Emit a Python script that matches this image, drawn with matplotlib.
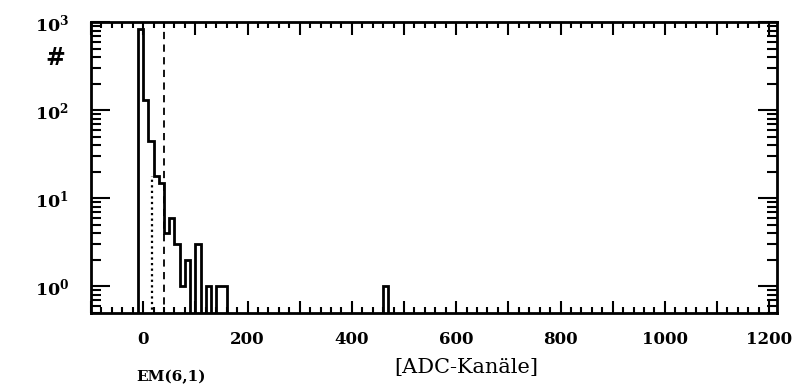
import matplotlib.pyplot as plt
import numpy as np
from matplotlib.ticker import MultipleLocator, LogLocator, FuncFormatter, NullFormatter

plt.rcParams['font.family'] = 'DejaVu Serif'
plt.rcParams['font.weight'] = 'bold'
plt.rcParams['mathtext.fontset'] = 'dejavuserif'

# histogramm (linke bin-kante, eintraege), breite 10 kanaele
bin_left = [-10, 0, 10, 20, 30, 40, 50, 60, 70, 80, 100, 120, 140, 150, 460]
counts = [830, 130, 45, 18, 15, 4, 6, 3, 1, 2, 3, 1, 1, 1, 1]

# schnitte
dotted_x, dotted_top = 17, 18
dashed_x, dashed_top = 39, 790

edges = np.arange(-10, 490, 10)
vals = np.full(len(edges) - 1, 1e-2)
for b, c in zip(bin_left, counts):
    vals[(b + 10) // 10] = c

fig = plt.figure(figsize=(7.97, 3.92), dpi=100)
ax = fig.add_axes([91/797, 79/392, 686/797, 291/392])

ax.stairs(vals, edges, baseline=1e-2, color='black', lw=2)
ax.vlines(dotted_x, 1e-2, dotted_top, colors='black', linestyles=(0, (1, 1.5)), lw=1.6)
ax.vlines(dashed_x, 1e-2, dashed_top, colors='black', linestyles=(0, (4, 3)), lw=1.3)

ax.set_yscale('log')
ax.set_xlim(-100, 1215)
ax.set_ylim(0.5, 1000)

ax.xaxis.set_major_locator(MultipleLocator(100))
ax.xaxis.set_major_formatter(FuncFormatter(lambda v, p: f'{int(round(v))}' if round(v) % 200 == 0 else ''))
ax.xaxis.set_minor_locator(MultipleLocator(20))
ax.yaxis.set_major_locator(LogLocator(base=10))
ax.yaxis.set_major_formatter(FuncFormatter(lambda v, p: r'$\mathbf{10^{%d}}$' % round(np.log10(v))))
ax.yaxis.set_minor_locator(LogLocator(base=10, subs=range(2, 10)))
ax.yaxis.set_minor_formatter(NullFormatter())

ax.tick_params(which='both', direction='in', top=True, right=True, width=1.5)
ax.tick_params(axis='x', which='major', length=9, pad=13, labelsize=12)
ax.tick_params(axis='x', which='minor', length=4)
ax.tick_params(axis='y', which='major', length=14, pad=16, labelsize=12.5)
ax.tick_params(axis='y', which='minor', length=7)
for s in ax.spines.values():
    s.set_linewidth(2)

fig.text(55/797, 1 - 58/392, '#', ha='center', va='center', fontsize=17, weight='bold')
fig.text(466/797, 1 - 367/392, '[ADC-Kanäle]', ha='center', va='center', fontsize=15, weight='normal')
fig.text(171/797, 1 - 377/392, 'EM(6,1)', ha='center', va='center', fontsize=11, weight='bold')

fig.savefig('out.png', dpi=100)
